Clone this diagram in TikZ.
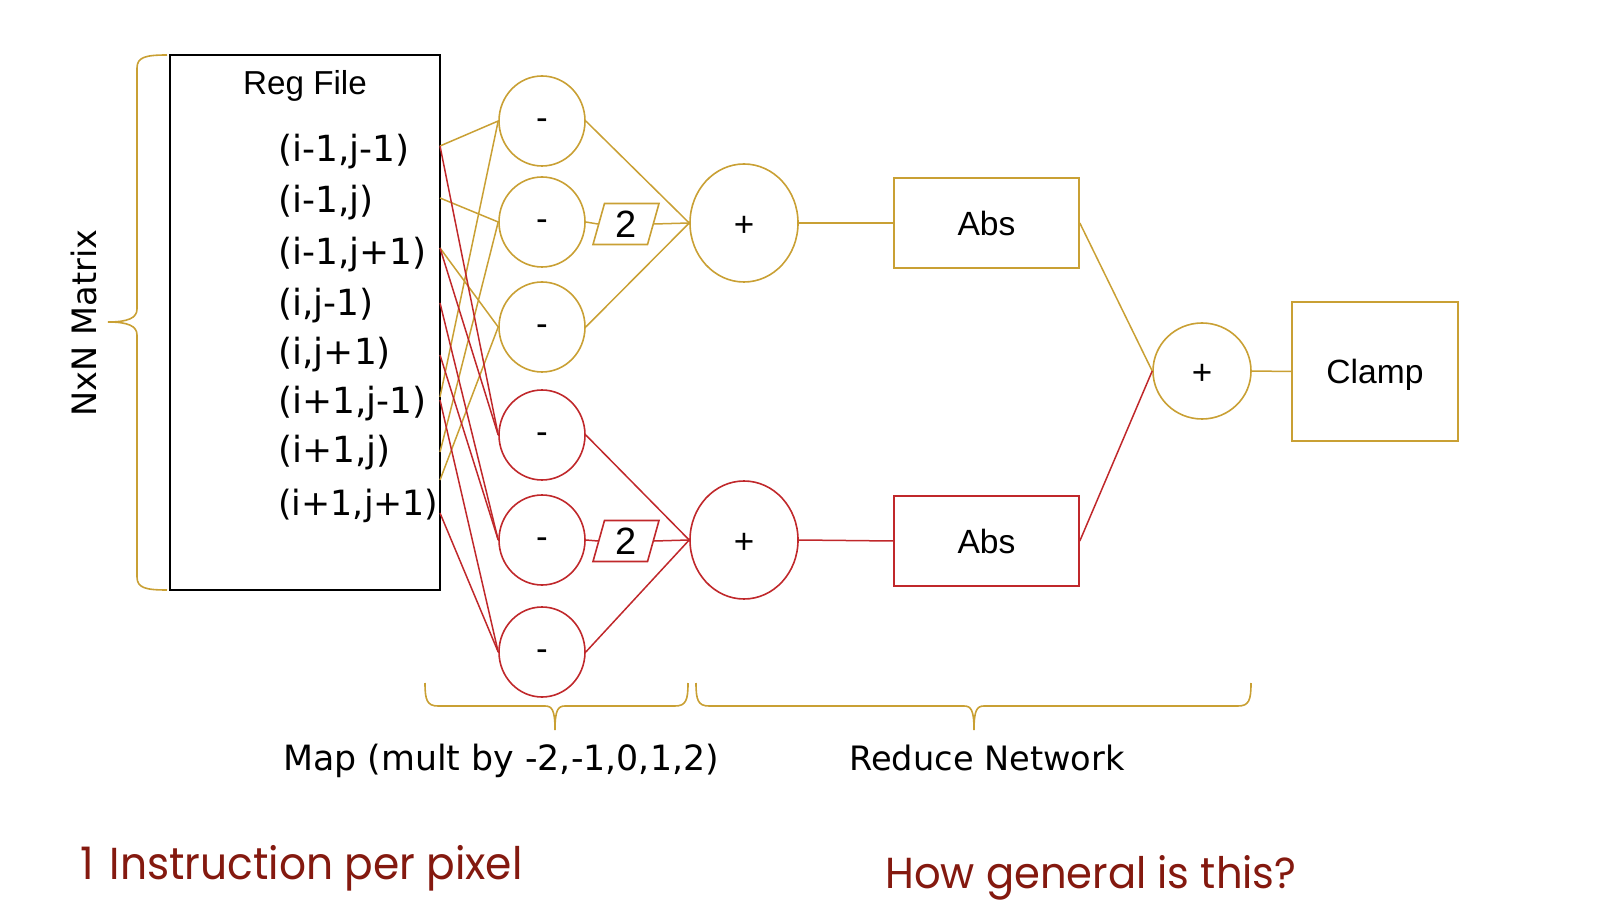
\documentclass[tikz,border=0pt]{standalone}
\usepackage{fontspec}
\setmainfont{Liberation Sans}
\newfontfamily\dvs{DejaVu Sans}
\newfontfamily\geo[FakeStretch=0.96]{Poppins}
\newfontfamily\geob[FakeStretch=0.945]{Poppins}
\usetikzlibrary{shapes.geometric}
\definecolor{gold}{HTML}{C9A034}
\definecolor{redd}{HTML}{C0282B}
\definecolor{darkred}{HTML}{84190F}
\newcommand{\lowr}[1]{\raisebox{-1.5pt}[\height][\depth]{#1}}
\begin{document}
\begin{tikzpicture}[x=0.5pt,y=-0.5pt,
  wire/.style={line width=0.75pt},
  gw/.style={wire,draw=gold},
  rw/.style={wire,draw=redd},
  minusc/.style={ellipse,minimum width=43pt,minimum height=45pt,inner sep=0pt,line width=0.8pt,font=\fontsize{17.5}{20}\selectfont},
  plusc/.style={ellipse,minimum width=54pt,minimum height=59pt,inner sep=0pt,line width=0.8pt,font=\fontsize{17.5}{20}\selectfont},
  twobox/.style={trapezium,trapezium left angle=78,trapezium right angle=102,trapezium stretches=true,minimum width=33pt,minimum height=20.5pt,inner sep=0pt,line width=0.8pt,font=\fontsize{19}{22}\selectfont},
  opbox/.style={rectangle,inner sep=0pt,line width=0.8pt,font=\fontsize{16.8}{20}\selectfont},
  lab/.style={anchor=west,inner sep=0pt,font=\dvs\fontsize{18}{21}\selectfont},
  caption/.style={inner sep=0pt,font=\dvs\fontsize{16.8}{20}\selectfont},
  bigtext/.style={anchor=base west,inner sep=0pt,text=darkred,font=\geo\fontsize{22.4}{27}\selectfont},
  brace/.style={draw=gold,line width=0.8pt}
]
\useasboundingbox (0,0) rectangle (1604,908);

% register file
\node[draw=black,line width=0.9pt,minimum width=135pt,minimum height=267.5pt,inner sep=0pt] (reg) at (305,322.5) {};
\node[inner sep=0pt,font=\fontsize{16.6}{20}\selectfont] (regt) at (305,86) {Reg File};
\node[lab] (l1) at (278,152) {(i-1,j-1)};
\node[lab] (l2) at (278,203) {(i-1,j)};
\node[lab] (l3) at (278,255) {(i-1,j+1)};
\node[lab] (l4) at (278,306) {(i,j-1)};
\node[lab] (l5) at (278,355) {(i,j+1)};
\node[lab] (l6) at (278,404) {(i+1,j-1)};
\node[lab] (l7) at (278,453) {(i+1,j)};
\node[lab,font=\dvs\fontsize{17.4}{21}\selectfont] (l8) at (278,506) {(i+1,j+1)};

% left brace
\draw[brace] (167,55) .. controls (146,55) and (137,57) .. (137,68) -- (137,309) .. controls (137,318) and (128,322) .. (108,322) .. controls (128,322) and (137,326) .. (137,335) -- (137,577) .. controls (137,588) and (146,590) .. (167,590);
\node[caption,rotate=90] (nxn) at (84,323) {NxN Matrix};

% map stage
\node[minusc,draw=gold] (m1) at (542,121) {\lowr{-}};
\node[minusc,draw=gold] (m2) at (542,222) {\lowr{-}};
\node[minusc,draw=gold] (m3) at (542,327) {\lowr{-}};
\node[minusc,draw=redd] (m4) at (542,435) {\lowr{-}};
\node[minusc,draw=redd] (m5) at (542,540) {\lowr{-}};
\node[minusc,draw=redd] (m6) at (542,652) {\lowr{-}};
\node[twobox,draw=gold] (t1) at (626,224) {2};
\node[twobox,draw=redd] (t2) at (626,541) {2};

% reduce stage
\node[plusc,draw=gold] (p1) at (744,223) {\lowr{+}};
\node[plusc,draw=redd] (p2) at (744,540) {\lowr{+}};
\node[opbox,draw=gold,minimum width=92.5pt,minimum height=45pt] (a1) at (986.5,223) {Abs};
\node[opbox,draw=redd,minimum width=92.5pt,minimum height=45pt] (a2) at (986.5,541) {Abs};
\node[ellipse,draw=gold,minimum width=49pt,minimum height=48pt,inner sep=0pt,line width=0.8pt,font=\fontsize{17.5}{20}\selectfont] (f) at (1202,371) {\lowr{+}};
\node[opbox,draw=gold,minimum width=83pt,minimum height=69.5pt] (c) at (1375,371.5) {\lowr{Clamp}};

% wire start points on the register file edge
\coordinate (g1) at (440,146);
\coordinate (g2) at (440,198);
\coordinate (g3) at (440,248);
\coordinate (g6) at (440,397);
\coordinate (g7) at (440,452);
\coordinate (g8) at (440,480);
\coordinate (r1) at (440,146);
\coordinate (r3) at (440,248);
\coordinate (r4) at (440,303);
\coordinate (r5) at (440,355);
\coordinate (r6) at (440,400);
\coordinate (r8) at (440,513);

\draw[gw] (g1) -- (m1.west);
\draw[gw] (g2) -- (m2.west);
\draw[gw] (g3) -- (m3.west);
\draw[gw] (g6) -- (m1.west);
\draw[gw] (g7) -- (m2.west);
\draw[gw] (g8) -- (m3.west);
\draw[rw] (r1) -- (m4.west);
\draw[rw] (r3) -- (m4.west);
\draw[rw] (r4) -- (m5.west);
\draw[rw] (r5) -- (m5.west);
\draw[rw] (r6) -- (m6.west);
\draw[rw] (r8) -- (m6.west);

\draw[gw] (m1.east) -- (p1.west);
\draw[gw] (m2.east) -- (t1.west);
\draw[gw] (t1.east) -- (p1.west);
\draw[gw] (m3.east) -- (p1.west);
\draw[rw] (m4.east) -- (p2.west);
\draw[rw] (m5.east) -- (t2.west);
\draw[rw] (t2.east) -- (p2.west);
\draw[rw] (m6.east) -- (p2.west);

\draw[gw] (p1.east) -- (a1.west);
\draw[rw] (p2.east) -- (a2.west);
\draw[gw] (a1.east) -- (f.west);
\draw[rw] (a2.east) -- (f.west);
\draw[gw] (f.east) -- (c.west);

% bottom braces
\draw[brace] (425,683) .. controls (425,700) and (427,706) .. (438,706) -- (545,706) .. controls (552,706) and (555,710) .. (555,730) .. controls (555,710) and (558,706) .. (565,706) -- (675,706) .. controls (686,706) and (688,700) .. (688,683);
\draw[brace] (696,683) .. controls (696,700) and (698,706) .. (709,706) -- (964,706) .. controls (971,706) and (974,710) .. (974,730) .. controls (974,710) and (977,706) .. (984,706) -- (1238,706) .. controls (1249,706) and (1251,700) .. (1251,683);
\node[caption,font=\dvs\fontsize{17.4}{20}\selectfont] (mapt) at (501,761) {Map (mult by -2,-1,0,1,2)};
\node[caption] (redt) at (987,758) {Reduce Network};

% remarks
\node[bigtext,font=\geob\fontsize{22.4}{27}\selectfont] (rem1) at (80,879) {1\hspace{0.35em}Instruction per pixel};
\node[bigtext,font=\geo\fontsize{21.7}{27}\selectfont] (rem2) at (885,888) {How general is this?};
\end{tikzpicture}
\end{document}
